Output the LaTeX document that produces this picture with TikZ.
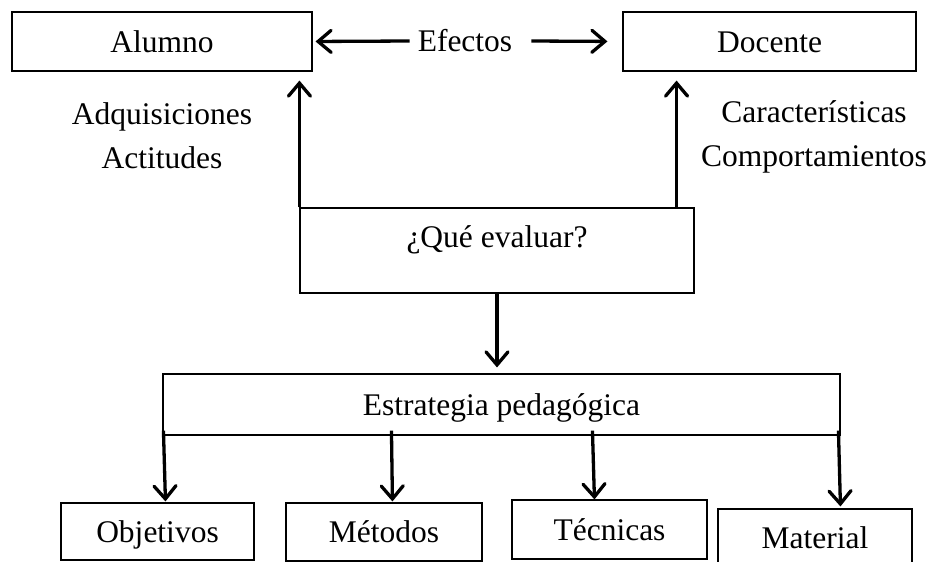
\documentclass[tikz,border=0pt]{standalone}
\usepackage{fontspec}
\setmainfont{Liberation Serif}
\usetikzlibrary{arrows.meta,calc}
\begin{document}
\begin{tikzpicture}[x=1pt,y=-1pt,
  txt/.style={inner sep=0pt, text height=21pt, text depth=0pt, font=\fontsize{31.5}{38}\selectfont},
  box/.style={txt, draw, line width=1.1pt},
  arr/.style={line width=3.3pt, -{Straight Barb[length=13pt,width=22pt,line cap=round]}}]
\useasboundingbox (0,0) rectangle (935,562);
\clip (0,0) rectangle (935,562);
% top row
\node[box, minimum width=300, minimum height=59] (alumno) at (162,41.5) {Alumno};
\node[box, minimum width=293, minimum height=59] (docente) at (769.5,41.5) {Docente};
\node[txt] (efectos) at (465,41) {Efectos};
\node[txt] (adq) at (162,114) {Adquisiciones};
\node[txt] (act) at (162,158) {Actitudes};
\node[txt] (car) at (814,112) {Características};
\node[txt] (comp) at (814,156) {Comportamientos};
% middle
\node[box, text height=39.5pt, text depth=45.5pt, minimum width=394] (que) at (497,250.5) {¿Qué evaluar?};
\node[box, minimum width=677, minimum height=61] (estr) at (501.5,404.5) {Estrategia pedagógica};
% bottom row
\node[box, minimum width=193, minimum height=57] (obj) at (157.5,531.5) {Objetivos};
\node[box, minimum width=196, minimum height=58] (met) at (384,532) {Métodos};
\node[box, minimum width=195, minimum height=59] (tec) at (609.5,529.5) {Técnicas};
\node[box, minimum width=194, minimum height=58] (mat) at (815,538) {Material};
% connectors
\draw[arr, shorten >=3pt] ([xshift=-8]efectos.west) -- (alumno.east);
\draw[arr, shorten >=15pt] ([xshift=19]efectos.east) -- (docente.west);
\coordinate (dq) at ([xshift=-18]que.north east);
\draw[arr, shorten >=9pt] (que.north west) -- (que.north west |- alumno.south);
\draw[arr, shorten >=9pt] (dq) -- (dq |- docente.south);
\draw[arr, shorten >=6pt] (que.south) -- (que.south |- estr.north);
\draw[arr] ([xshift=1,yshift=5]estr.south west) -- ([xshift=105,yshift=1]obj.north west);
\draw[arr] ([xshift=229,yshift=5]estr.south west) -- ([xshift=107,yshift=1]met.north west);
\draw[arr] ([xshift=430,yshift=5]estr.south west) -- ([xshift=83]tec.north west);
\draw[arr] ([xshift=676,yshift=5]estr.south west) -- ([xshift=123,yshift=2]mat.north west);
\end{tikzpicture}
\end{document}
